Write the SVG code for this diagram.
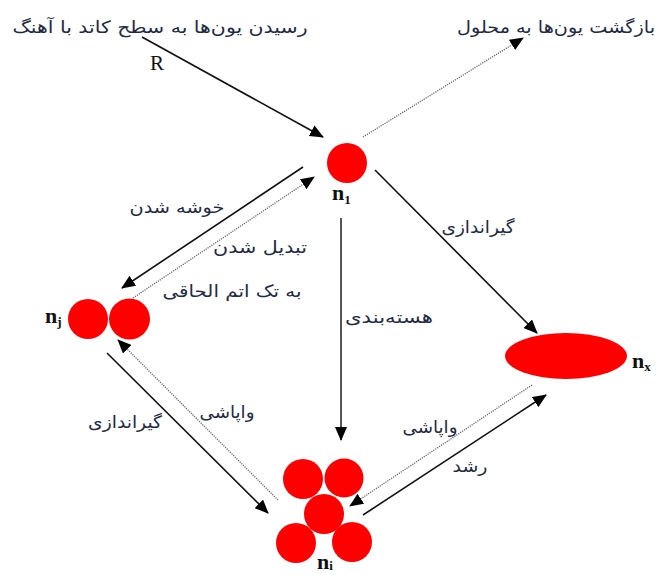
<svg xmlns="http://www.w3.org/2000/svg" width="660" height="575" viewBox="0 0 660 575">
<style>
.fa{font-family:"DejaVu Sans","Noto Sans",sans-serif;font-size:17px;fill:#1f2a44;text-anchor:middle}
.lb{font-family:"Liberation Serif","DejaVu Serif",serif;font-size:22px;font-weight:bold;fill:#111}
.r{font-family:"Liberation Serif","DejaVu Serif",serif;font-size:21px;fill:#111}
.sub{font-size:13px}
.ball{fill:#ff0000}
.solid{stroke:#111;stroke-width:1.6;fill:none}
.dot{stroke:#666;stroke-width:1.3;stroke-dasharray:1.2 1.1;fill:none}
.grey{stroke:#555;stroke-width:2;fill:none}
</style>
<defs>
<marker id="ah" markerUnits="userSpaceOnUse" markerWidth="14" markerHeight="12" refX="13" refY="6" orient="auto" viewBox="0 0 14 12">
<path d="M0,0 L14,6 L0,12 z" fill="#000"/>
</marker>
</defs>

<g id="connectors">
<line class="solid" x1="142" y1="37" x2="323" y2="137" marker-end="url(#ah)"/>
<line class="dot" x1="363" y1="137" x2="523" y2="38" marker-end="url(#ah)"/>
<line class="solid" x1="303" y1="167" x2="122" y2="288" marker-end="url(#ah)"/>
<line class="dot" x1="133" y1="298" x2="314" y2="177" marker-end="url(#ah)"/>
<line class="grey" x1="341" y1="218" x2="341" y2="440" marker-end="url(#ah)"/>
<line class="solid" x1="375" y1="170" x2="537" y2="333" marker-end="url(#ah)"/>
<line class="solid" x1="107" y1="353" x2="268" y2="513" marker-end="url(#ah)"/>
<line class="dot" x1="278" y1="500" x2="118" y2="340" marker-end="url(#ah)"/>
<line class="solid" x1="363" y1="515" x2="546" y2="395" marker-end="url(#ah)"/>
<line class="dot" x1="532" y1="385" x2="350" y2="506" marker-end="url(#ah)"/>
</g>

<g id="labels">
<text class="fa" x="160" y="33" textLength="295" lengthAdjust="spacingAndGlyphs">رسیدن یون‌ها به سطح کاتد با آهنگ</text>
<text class="r" x="150" y="70">R</text>
<text class="fa" x="556" y="33" textLength="198" lengthAdjust="spacingAndGlyphs">بازگشت یون‌ها به محلول</text>
<text class="fa" x="177" y="213" textLength="95" lengthAdjust="spacingAndGlyphs">خوشه شدن</text>
<text class="fa" x="260" y="253" textLength="94" lengthAdjust="spacingAndGlyphs">تبدیل شدن</text>
<text class="fa" x="232" y="297" textLength="139" lengthAdjust="spacingAndGlyphs">به تک اتم الحاقی</text>
<text class="fa" x="478" y="233" textLength="73" lengthAdjust="spacingAndGlyphs">گیراندازی</text>
<text class="fa" x="389" y="323" textLength="88" lengthAdjust="spacingAndGlyphs">هسته‌بندی</text>
<text class="fa" x="125" y="428" textLength="74" lengthAdjust="spacingAndGlyphs">گیراندازی</text>
<text class="fa" x="227" y="418" textLength="55" lengthAdjust="spacingAndGlyphs">واپاشی</text>
<text class="fa" x="430" y="433" textLength="55" lengthAdjust="spacingAndGlyphs">واپاشی</text>
<text class="fa" x="470" y="472" textLength="35" lengthAdjust="spacingAndGlyphs">رشد</text>
</g>

<g id="n1">
<circle class="ball" cx="347" cy="163" r="20"/>
<text class="lb" x="332" y="200">n<tspan class="sub" dy="4">1</tspan></text>
</g>

<g id="nj">
<circle class="ball" cx="88" cy="319" r="20"/>
<circle class="ball" cx="129.5" cy="319" r="20.5"/>
<text class="lb" x="45" y="323">n<tspan class="sub" dy="3">j</tspan></text>
</g>

<g id="nx">
<ellipse class="ball" cx="566" cy="356" rx="61" ry="23"/>
<text class="lb" x="632" y="368">n<tspan class="sub" dy="3">x</tspan></text>
</g>

<g id="ni">
<circle class="ball" cx="303" cy="479" r="20"/>
<circle class="ball" cx="344" cy="478" r="19.5"/>
<circle class="ball" cx="324" cy="514" r="20"/>
<circle class="ball" cx="296" cy="543" r="20"/>
<circle class="ball" cx="352" cy="542" r="20"/>
<text class="lb" x="317" y="569">n<tspan class="sub" dy="1">i</tspan></text>
</g>
</svg>
